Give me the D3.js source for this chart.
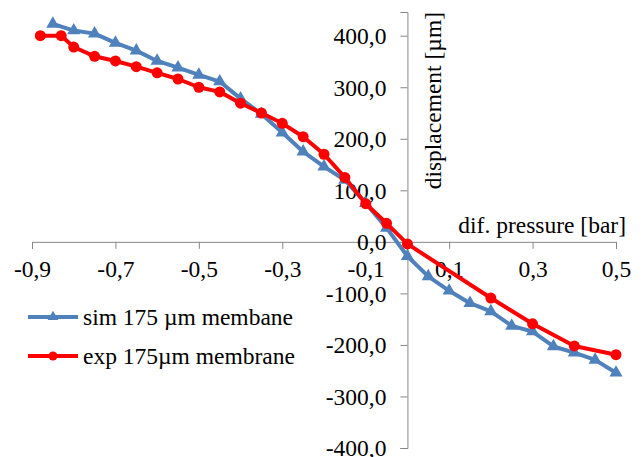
<!DOCTYPE html>
<html>
<head>
<meta charset="utf-8">
<script src="https://cdn.jsdelivr.net/npm/d3@7"></script>
<style>
  body { margin: 0; background: #fff; }
  svg { display: block; }
</style>
</head>
<body>
<div id="chart"></div>
<script>
// pressure values [bar] and displacement [µm]
const simPressure = [-0.85, -0.8, -0.75, -0.7, -0.65, -0.6, -0.55, -0.5, -0.45, -0.4, -0.35, -0.3, -0.25, -0.2, -0.15, -0.1, -0.05, 0, 0.05, 0.1, 0.15, 0.2, 0.25, 0.3, 0.35, 0.4, 0.45, 0.5];
const simDisp = [423, 410, 404, 386, 371, 351, 338, 324, 311, 278, 248, 212, 175, 146, 120, 75, 27, -28, -67, -95, -119, -135, -163, -174, -203, -215, -229, -254];

const expPressure = [-0.88, -0.83, -0.8, -0.75, -0.7, -0.65, -0.6, -0.55, -0.5, -0.45, -0.4, -0.35, -0.3, -0.25, -0.2, -0.15, -0.1, -0.05, 0, 0.2, 0.3, 0.4, 0.5];
const expDisp = [400, 400, 378, 360, 351, 340, 328, 316, 300, 291, 269, 250, 230, 204, 170, 125, 74, 36, -4, -109, -159, -202, -219];

const xTicks = [-0.9, -0.7, -0.5, -0.3, -0.1, 0.1, 0.3, 0.5];
const yTicks = [-400, -300, -200, -100, 0, 100, 200, 300, 400];

const seriesNames = ['sim 175 µm membane', 'exp 175µm membrane'];

const width = 644, height = 457;
const axisColor = '#868686';
const blue = '#4F81BD', red = '#FF0000';
const FONT = '"Liberation Serif", "Times New Roman", serif';
const FSIZE = '23.5px';

const svg = d3.select('#chart').append('svg')
  .attr('width', width)
  .attr('height', height);

const x = d3.scaleLinear().domain([-0.9, 0.5]).range([32, 616]);
const y = d3.scaleLinear().domain([-400, 446]).range([448, 12]);

const comma = f => v => f(v).replace('.', ',').replace('−', '-');

const styleText = sel => sel
  .style('font-family', FONT)
  .style('font-size', FSIZE)
  .attr('fill', '#000');

// x axis at y = 0
const gx = svg.append('g')
  .attr('transform', `translate(0,${y(0)})`)
  .call(d3.axisBottom(x).tickValues(xTicks).tickSizeOuter(0).tickSize(7).tickFormat(comma(d3.format('.1f'))));
gx.select('.domain').attr('stroke', axisColor);
gx.selectAll('.tick line').attr('stroke', axisColor);
gx.selectAll('.tick text')
  .attr('y', 35).attr('dy', 0)
  .call(styleText);

// y axis at x = 0
const gy = svg.append('g')
  .attr('transform', `translate(${x(0)},0)`)
  .call(d3.axisLeft(y).tickValues(yTicks).tickSizeOuter(0).tickSize(7).tickFormat(comma(d3.format('.1f'))));
gy.select('.domain').attr('stroke', axisColor);
gy.selectAll('.tick line').attr('stroke', axisColor);
gy.selectAll('.tick text')
  .attr('x', -21).attr('dy', '0.33em')
  .call(styleText);

// axis titles
svg.append('text')
  .attr('x', 626).attr('y', 233)
  .attr('text-anchor', 'end')
  .call(styleText)
  .text('dif. pressure [bar]');

svg.append('text')
  .attr('transform', `translate(441,12) rotate(-90)`)
  .attr('text-anchor', 'end')
  .call(styleText)
  .text('displacement [µm]');

const line = d3.line().x(d => x(d[0])).y(d => y(d[1]));
const tri = d3.symbol().type(d3.symbolTriangle).size(75);

const simData = simPressure.map((p, i) => [p, simDisp[i]]);
const expData = expPressure.map((p, i) => [p, expDisp[i]]);

// sim series
svg.append('path')
  .datum(simData)
  .attr('d', line)
  .attr('fill', 'none')
  .attr('stroke', blue)
  .attr('stroke-width', 4)
  .attr('stroke-linejoin', 'round');
svg.selectAll('.sim-pt')
  .data(simData)
  .join('path')
  .attr('class', 'sim-pt')
  .attr('d', tri)
  .attr('transform', d => `translate(${x(d[0])},${y(d[1])})`)
  .attr('fill', blue);

// exp series
svg.append('path')
  .datum(expData)
  .attr('d', line)
  .attr('fill', 'none')
  .attr('stroke', red)
  .attr('stroke-width', 4)
  .attr('stroke-linejoin', 'round');
svg.selectAll('.exp-pt')
  .data(expData)
  .join('circle')
  .attr('class', 'exp-pt')
  .attr('cx', d => x(d[0]))
  .attr('cy', d => y(d[1]))
  .attr('r', 5.5)
  .attr('fill', red);

// legend
const legend = svg.append('g');
[{ c: blue, sym: 'tri', ly: 317 }, { c: red, sym: 'dot', ly: 356 }].forEach((s, i) => {
  legend.append('line')
    .attr('x1', 28).attr('x2', 78)
    .attr('y1', s.ly).attr('y2', s.ly)
    .attr('stroke', s.c).attr('stroke-width', 4);
  if (s.sym === 'tri') {
    legend.append('path')
      .attr('d', d3.symbol().type(d3.symbolTriangle).size(50)())
      .attr('transform', `translate(53,${s.ly})`)
      .attr('fill', s.c);
  } else {
    legend.append('circle')
      .attr('cx', 53).attr('cy', s.ly).attr('r', 4.5)
      .attr('fill', s.c);
  }
  legend.append('text')
    .attr('x', 83).attr('y', s.ly + 8)
    .call(styleText)
    .text(seriesNames[i]);
});
</script>
</body>
</html>
